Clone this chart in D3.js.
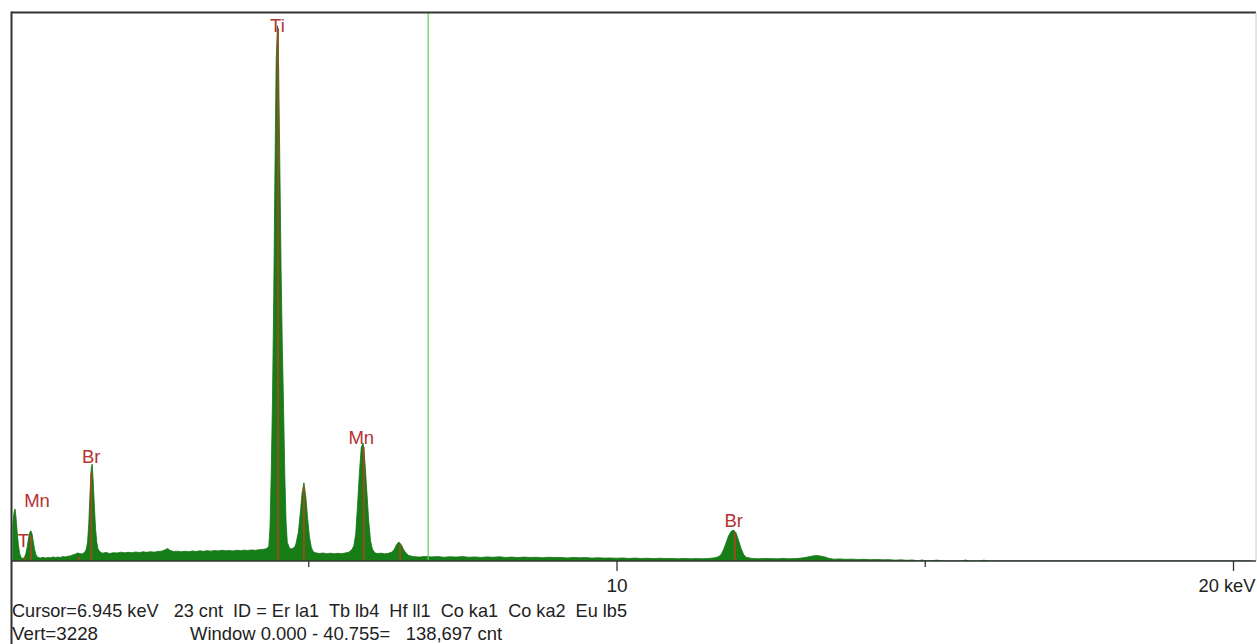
<!DOCTYPE html>
<html>
<head>
<meta charset="utf-8">
<script src="https://cdn.jsdelivr.net/npm/d3@7"></script>
<style>
  html, body { margin: 0; padding: 0; background: #fff; }
  svg { display: block; }
  text { font-family: "Liberation Sans", Arial, sans-serif; white-space: pre; }
</style>
</head>
<body>
<svg id="chart" width="1257" height="644"></svg>
<script>
// ---------------- DATA ----------------
// Spectrum: energy (keV) and counts
const spectrumEnergy = [
  0.19,0.21,0.23,0.245,0.26,0.28,0.30,0.32,0.34,0.36,
  0.38,0.40,0.42,0.44,0.46,0.48,0.50,0.52,0.54,0.56,0.58,0.60,0.62,
  0.66,0.70,0.74,0.78,0.82,0.86,0.90,0.94,0.98,1.02,1.06,1.10,1.14,1.18,1.22,1.26,1.30,1.34,1.38,
  1.40,1.42,1.44,1.46,1.48,1.495,1.51,1.53,1.55,1.57,1.59,1.62,
  1.66,1.72,1.78,1.84,1.90,1.96,2.02,2.08,2.14,2.20,2.26,2.32,2.38,2.44,2.50,2.56,2.62,2.68,2.72,2.76,
  2.82,2.88,2.94,3.00,3.06,3.12,3.18,3.24,3.30,3.36,3.42,3.48,3.54,3.60,3.66,3.72,3.78,3.84,3.90,3.96,
  4.02,4.08,4.14,4.20,4.26,4.32,
  4.36,4.38,4.40,4.42,4.44,4.46,4.48,4.50,4.52,4.54,4.56,4.58,4.60,4.62,4.64,4.66,4.70,4.74,4.78,
  4.80,4.84,4.87,4.90,4.93,4.96,4.99,5.02,5.05,5.08,
  5.12,5.18,5.24,5.30,5.36,5.42,5.48,5.54,5.60,5.66,5.71,
  5.74,5.77,5.80,5.83,5.86,5.89,5.92,5.95,5.98,6.01,6.04,6.08,
  6.12,6.18,6.24,6.30,6.35,
  6.39,6.43,6.47,6.51,6.55,6.59,6.63,
  6.70,6.80,6.90,7.00,7.10,7.20,7.30,7.40,7.50,7.60,7.70,7.80,7.90,8.00,8.10,8.20,8.30,8.40,8.50,8.60,
  8.70,8.80,8.90,9.00,9.10,9.20,9.30,9.40,9.50,9.60,9.70,9.80,9.90,10.00,10.10,10.20,10.30,10.40,10.50,
  10.60,10.70,10.80,10.90,11.00,11.10,11.20,11.30,11.40,11.50,11.60,
  11.66,11.70,11.74,11.78,11.82,11.86,11.90,11.94,11.98,12.02,12.06,12.10,
  12.20,12.30,12.40,12.50,12.60,12.70,12.80,12.90,13.00,
  13.08,13.16,13.24,13.30,13.38,13.44,
  13.52,13.62,13.72,13.82,13.92,14.02,14.12,14.22,14.32,14.42,14.52,14.62,14.70,14.80,14.90,14.95,
  15.05,15.20,15.30,15.60,15.66,15.72,15.90,15.96,16.02,20.3
];
const spectrumCounts = [
  170,235,290,306,255,165,90,42,22,15,
  17,24,45,80,128,165,178,160,115,70,40,26,20,
  18,22,17,21,19,24,20,23,21,26,24,28,30,36,40,47,43,42,55,
  70,110,220,400,545,570,480,330,190,110,70,55,
  46,50,44,49,47,52,48,51,49,53,50,54,51,55,52,56,58,66,74,62,
  56,58,54,57,55,59,56,60,57,61,58,62,59,63,60,62,59,63,61,64,
  62,65,63,66,68,72,
  85,200,520,950,1550,2300,2950,3150,2900,2300,1700,1250,900,500,230,110,72,72,82,
  100,170,280,400,460,380,250,140,80,55,
  48,44,47,43,46,42,45,43,47,52,68,
  90,160,330,520,670,694,580,410,240,120,70,48,
  44,46,42,45,52,
  65,95,112,95,65,45,33,
  26,23,27,24,26,22,25,23,26,22,24,21,24,22,25,21,23,20,23,21,
  22,19,22,20,21,18,21,19,20,17,19,17,18,16,18,15,17,15,16,
  14,16,14,15,13,15,13,14,13,15,19,
  26,40,70,110,150,175,182,165,120,75,40,22,
  15,13,15,14,13,15,13,14,17,
  22,28,32,30,24,16,
  11,12,10,11,9,10,8,9,7,8,5,7,4,6,0,6,
  0,5,0,0,6,0,0,5,0,0
];

// Element line markers (KLM)
const markerEnergy = [0.40, 0.50, 1.28, 1.48, 4.51, 4.93, 5.90, 6.49, 11.92];
const markerCounts = [20, 150, 25, 520, 3135, 435, 670, 95, 170];

// Peak labels
const labelText   = ["T", "Mn", "Br", "Ti", "Mn", "Br"];
const labelEnergy = [0.38, 0.60, 1.48, 4.50, 5.86, 11.90];
const labelCounts = [82, 318, 576, 3116, 688, 200];

// Axis ticks
const majorTicks = [10, 20];
const minorTicks = [5, 15];
const tickLabels = {10: "10", 20: "20 keV"};

// Status lines
const cursorKeV = 6.945;
const statusLine1 = "Cursor=6.945 keV   23 cnt  ID = Er la1  Tb lb4  Hf ll1  Co ka1  Co ka2  Eu lb5";
const statusVert = "Vert=3228";
const statusWindow = "Window 0.000 - 40.755=   138,697 cnt";
const vertFullScale = 3228;

// ---------------- DRAWING ----------------
(function () {
const svg = d3.select("#chart");
const W = 1257, H = 644;
const pLeft = 11.5, pRight = 1256, pTop = 12.5, pBase = 561;

svg.append("rect").attr("width", W).attr("height", H).attr("fill", "#fff");

const x = d3.scaleLinear().domain([0, 20]).range([0, 1233]);
const y = d3.scaleLinear().domain([0, vertFullScale]).range([pBase, pTop]);

svg.append("clipPath").attr("id", "plotclip")
  .append("rect").attr("x", pLeft + 1).attr("y", pTop).attr("width", pRight - pLeft - 1).attr("height", pBase - pTop);

const plot = svg.append("g").attr("clip-path", "url(#plotclip)");

const spectrum = spectrumEnergy.map((e, i) => [e, spectrumCounts[i]]);

// labels under spectrum
plot.selectAll("text.lbl").data(labelText).join("text")
  .attr("class", "lbl")
  .attr("x", (d, i) => x(labelEnergy[i]))
  .attr("y", (d, i) => y(labelCounts[i]))
  .attr("text-anchor", "middle")
  .attr("font-size", 18.5)
  .attr("fill", "#b43232")
  .text(d => d);

const area = d3.area()
  .x(d => x(d[0]))
  .y0(y(0))
  .y1(d => y(d[1]))
  .curve(d3.curveLinear);

plot.append("path").datum(spectrum)
  .attr("d", area)
  .attr("fill", "#177d17")
  .attr("stroke", "#147214")
  .attr("stroke-width", 0.8);

// markers
plot.selectAll("line.mk").data(markerEnergy).join("line")
  .attr("class", "mk")
  .attr("x1", d => x(d)).attr("x2", d => x(d))
  .attr("y1", y(0))
  .attr("y2", (d, i) => y(markerCounts[i]))
  .attr("stroke", "#a04a1e")
  .attr("stroke-width", 1.8);

// cursor line
plot.append("line")
  .attr("x1", x(cursorKeV)).attr("x2", x(cursorKeV))
  .attr("y1", pTop).attr("y2", pBase)
  .attr("stroke", "#55d455").attr("stroke-width", 1.2);

// frame
svg.append("line").attr("x1", pLeft).attr("x2", pRight).attr("y1", pTop).attr("y2", pTop)
  .attr("stroke", "#333").attr("stroke-width", 2);
svg.append("line").attr("x1", pLeft).attr("x2", pLeft).attr("y1", pTop - 1).attr("y2", H)
  .attr("stroke", "#333").attr("stroke-width", 2);
svg.append("line").attr("x1", pRight).attr("x2", pRight).attr("y1", pTop).attr("y2", pBase)
  .attr("stroke", "#c8c8c8").attr("stroke-width", 1);
svg.append("line").attr("x1", pLeft).attr("x2", pRight).attr("y1", pBase).attr("y2", pBase)
  .attr("stroke", "#333").attr("stroke-width", 1.5);

// axes
const majorAxis = d3.axisBottom(x).tickValues(majorTicks).tickSize(10).tickFormat(d => tickLabels[d]);
const minorAxis = d3.axisBottom(x).tickValues(minorTicks).tickSize(6).tickFormat("");

const gMaj = svg.append("g").attr("transform", `translate(0,${pBase})`).call(majorAxis);
const gMin = svg.append("g").attr("transform", `translate(0,${pBase})`).call(minorAxis);
[gMaj, gMin].forEach(g => {
  g.select(".domain").remove();
  g.selectAll(".tick line").attr("stroke", "#333").attr("stroke-width", 1.3);
});
gMaj.selectAll(".tick text")
  .attr("font-family", "'Liberation Sans', Arial, sans-serif")
  .attr("font-size", 19)
  .attr("fill", "#222")
  .attr("dy", 0)
  .attr("y", 31)
  .each(function(d) {
    if (d === 20) {
      d3.select(this).attr("text-anchor", "end").attr("x", pRight - 1 - x(20))
        .attr("textLength", 57).attr("lengthAdjust", "spacingAndGlyphs");
    }
  });

// status text
svg.append("text").attr("x", 12).attr("y", 617)
  .attr("font-size", 19).attr("fill", "#222")
  .attr("textLength", 615).attr("lengthAdjust", "spacingAndGlyphs")
  .text(statusLine1);
svg.append("text").attr("x", 12).attr("y", 640)
  .attr("font-size", 19).attr("fill", "#222")
  .attr("textLength", 86).attr("lengthAdjust", "spacingAndGlyphs")
  .text(statusVert);
svg.append("text").attr("x", 190).attr("y", 640)
  .attr("font-size", 19).attr("fill", "#222")
  .attr("textLength", 312).attr("lengthAdjust", "spacingAndGlyphs")
  .text(statusWindow);
})();
</script>
</body>
</html>
